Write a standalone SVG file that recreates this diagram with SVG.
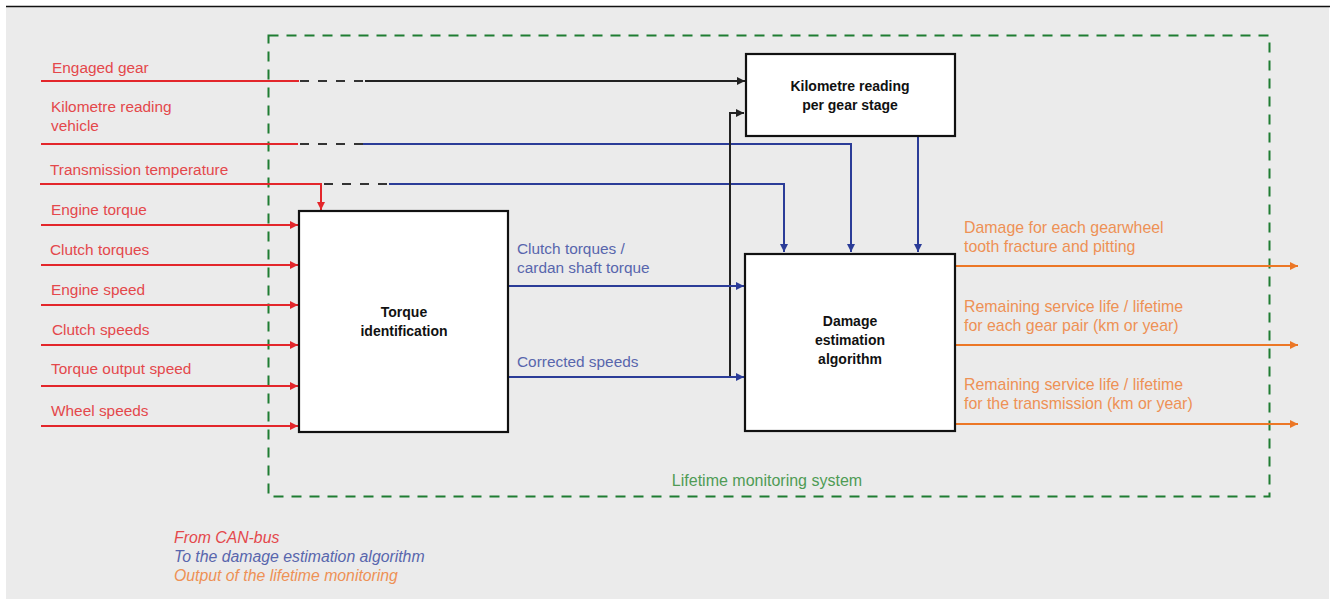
<svg xmlns="http://www.w3.org/2000/svg" width="1335" height="599" viewBox="0 0 1335 599">
<style>
text{font-family:"Liberation Sans",Arial,sans-serif;font-size:15.4px}
.in{fill:#e4484b}
.bl{fill:#5866ad}
.or{fill:#ee9155;font-size:15.9px}
.lg{fill:#4f9b55;font-size:16px}
.bx{fill:#111;font-weight:bold;font-size:14px;text-anchor:middle}
.it{font-style:italic;font-size:15.8px}
.box{fill:#fff;stroke:#111;stroke-width:2.2}
.red{stroke:#e3262b;stroke-width:2;fill:none}
.blu{stroke:#2b3c98;stroke-width:2;fill:none}
.org{stroke:#ec7726;stroke-width:2;fill:none}
.blk{stroke:#222;stroke-width:2;fill:none}
.dsh{stroke:#333;stroke-width:2;fill:none;stroke-dasharray:9 9}
</style>
<defs>
<marker id="aR" markerUnits="userSpaceOnUse" markerWidth="9" markerHeight="8" refX="8" refY="4" orient="auto"><path d="M0,0 L8,4 L0,8 z" fill="#e3262b"/></marker>
<marker id="aB" markerUnits="userSpaceOnUse" markerWidth="9" markerHeight="8" refX="8" refY="4" orient="auto"><path d="M0,0 L8,4 L0,8 z" fill="#2b3c98"/></marker>
<marker id="aO" markerUnits="userSpaceOnUse" markerWidth="9" markerHeight="8" refX="8" refY="4" orient="auto"><path d="M0,0 L8,4 L0,8 z" fill="#ec7726"/></marker>
<marker id="aK" markerUnits="userSpaceOnUse" markerWidth="9" markerHeight="8" refX="8" refY="4" orient="auto"><path d="M0,0 L8,4 L0,8 z" fill="#222"/></marker>
</defs>
<rect x="6" y="6" width="1323" height="593" fill="#ebebeb"/>
<line x1="6" y1="6.5" x2="1330" y2="6.5" stroke="#111" stroke-width="1.5"/>
<g id="system">
<rect x="268.5" y="35.5" width="1001" height="461" fill="none" stroke="#1f7d32" stroke-width="2" stroke-dasharray="10 8"/>
<text class="lg" x="767" y="486" text-anchor="middle">Lifetime monitoring system</text>
</g>
<g id="connectors">
<line class="red" x1="41" y1="81" x2="299" y2="81"/>
<line class="dsh" x1="300" y1="81" x2="365" y2="81"/>
<line class="blk" x1="365" y1="81" x2="745" y2="81" marker-end="url(#aK)"/>
<line class="red" x1="41" y1="144" x2="298" y2="144"/>
<line class="dsh" x1="300" y1="144" x2="363" y2="144"/>
<polyline class="blu" points="363,144 851,144 851,252" marker-end="url(#aB)"/>
<polyline class="red" points="40,184 321,184 321,210" marker-end="url(#aR)"/>
<line class="dsh" x1="324" y1="184" x2="389" y2="184"/>
<polyline class="blu" points="389,184 784,184 784,252" marker-end="url(#aB)"/>
<line class="blu" x1="918" y1="137" x2="918" y2="252" marker-end="url(#aB)"/>
<polyline class="blk" points="730,377 730,113 744,113" marker-end="url(#aK)"/>
<line class="red" x1="41" y1="225" x2="298" y2="225" marker-end="url(#aR)"/>
<line class="red" x1="41" y1="265" x2="298" y2="265" marker-end="url(#aR)"/>
<line class="red" x1="41" y1="305" x2="298" y2="305" marker-end="url(#aR)"/>
<line class="red" x1="41" y1="345" x2="298" y2="345" marker-end="url(#aR)"/>
<line class="red" x1="41" y1="386" x2="298" y2="386" marker-end="url(#aR)"/>
<line class="red" x1="41" y1="426" x2="298" y2="426" marker-end="url(#aR)"/>
<line class="blu" x1="509" y1="286" x2="744" y2="286" marker-end="url(#aB)"/>
<line class="blu" x1="509" y1="377" x2="744" y2="377" marker-end="url(#aB)"/>
<line class="org" x1="956" y1="266" x2="1298" y2="266" marker-end="url(#aO)"/>
<line class="org" x1="956" y1="345" x2="1298" y2="345" marker-end="url(#aO)"/>
<line class="org" x1="956" y1="424" x2="1298" y2="424" marker-end="url(#aO)"/>
</g>
<g id="input-labels">
<text class="in" x="52" y="73">Engaged gear</text>
<text class="in" x="51" y="112">Kilometre reading</text>
<text class="in" x="51" y="131">vehicle</text>
<text class="in" x="50" y="175">Transmission temperature</text>
<text class="in" x="51" y="215">Engine torque</text>
<text class="in" x="50" y="255">Clutch torques</text>
<text class="in" x="51" y="295">Engine speed</text>
<text class="in" x="52" y="335">Clutch speeds</text>
<text class="in" x="51" y="374">Torque output speed</text>
<text class="in" x="51" y="416">Wheel speeds</text>
</g>
<g id="km-box">
<rect class="box" x="746" y="54" width="209" height="82"/>
<text class="bx" x="850" y="91">Kilometre reading</text>
<text class="bx" x="850" y="110">per gear stage</text>
</g>
<g id="torque-box">
<rect class="box" x="299" y="211" width="209" height="221"/>
<text class="bx" x="404" y="317">Torque</text>
<text class="bx" x="404" y="336">identification</text>
</g>
<g id="damage-box">
<rect class="box" x="745" y="254" width="210" height="177"/>
<text class="bx" x="850" y="326">Damage</text>
<text class="bx" x="850" y="345">estimation</text>
<text class="bx" x="850" y="364">algorithm</text>
</g>
<g id="mid-labels">
<text class="bl" x="517" y="254">Clutch torques /</text>
<text class="bl" x="517" y="273">cardan shaft torque</text>
<text class="bl" x="517" y="367">Corrected speeds</text>
</g>
<g id="output-labels">
<text class="or" x="964" y="233">Damage for each gearwheel</text>
<text class="or" x="964" y="252">tooth fracture and pitting</text>
<text class="or" x="964" y="312">Remaining service life / lifetime</text>
<text class="or" x="964" y="331">for each gear pair (km or year)</text>
<text class="or" x="964" y="390">Remaining service life / lifetime</text>
<text class="or" x="964" y="409">for the transmission (km or year)</text>
</g>
<g id="legend">
<text class="in it" x="174" y="543">From CAN-bus</text>
<text class="bl it" x="174" y="562">To the damage estimation algorithm</text>
<text class="or it" x="174" y="581">Output of the lifetime monitoring</text>
</g>
</svg>
